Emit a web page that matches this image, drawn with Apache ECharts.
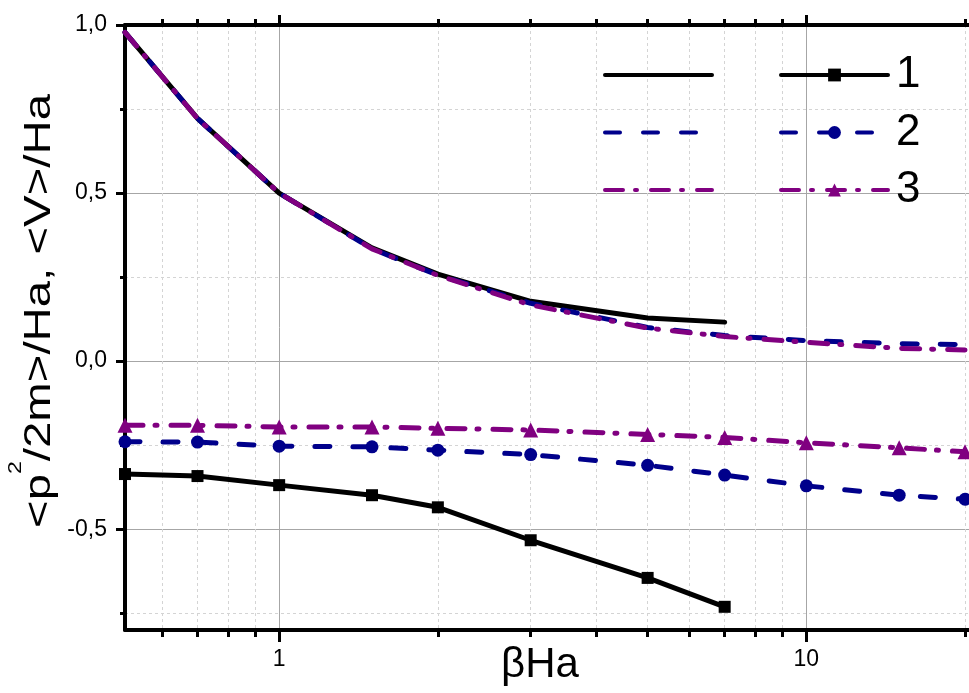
<!DOCTYPE html>
<html><head><meta charset="utf-8">
<script src="https://cdn.jsdelivr.net/npm/echarts@6/dist/echarts.min.js"></script>
<style>html,body{margin:0;padding:0;background:#fff}#c{width:969px;height:693px}</style>
</head><body><div id="c"></div>
<script>
// ---- data ----
const xValues = [0.51, 0.7, 1, 1.5, 2, 3, 5, 7, 10, 15, 20];
const kinetic1 = [0.978, 0.722, 0.5, 0.337, 0.259, 0.178, 0.128, 0.116];
const kinetic2 = [0.978, 0.722, 0.5, 0.334, 0.256, 0.172, 0.100, 0.076, 0.061, 0.052, 0.049];
const kinetic3 = [0.978, 0.722, 0.5, 0.334, 0.255, 0.167, 0.098, 0.073, 0.056, 0.038, 0.033];
const potential1 = [-0.336, -0.342, -0.369, -0.399, -0.435, -0.533, -0.645, -0.731];
const potential2 = [-0.240, -0.241, -0.253, -0.255, -0.265, -0.278, -0.310, -0.339, -0.371, -0.399, -0.411];
const potential3 = [-0.191, -0.191, -0.196, -0.196, -0.200, -0.205, -0.218, -0.227, -0.243, -0.258, -0.270];
const yMajorTicks = [-0.5, 0, 0.5, 1.0];
const yMinorTicks = [-0.75, -0.25, 0.25, 0.75];
const xMajorTicks = [1, 10];
const xMinorTicks = [0.6, 0.7, 0.8, 0.9, 2, 3, 4, 5, 6, 7, 8, 9, 20];
const seriesLabels = ['1', '2', '3'];
const kineticNames = ['K1', 'K2', 'K3'];
const xTitle = 'βHa';
const yTitle = '{n|<p}{sup|2}{n|/2m>/Ha, <V>/Ha}';

const FONT = 'Liberation Sans, Arial, sans-serif';
const BLACK = '#000000', BLUE = '#00008b', PURPLE = '#800080';
const DASH = [15, 23];
const DASHDOT = [18, 12, 2, 14];
const X_MIN = 0.51, X_MAX = 20.35;
const LW = 4;

const pairs = vals => vals.map((v, i) => [xValues[i], v]);
function line(name, vals, color, dash, symbol, size) {
  return {
    name, type: 'line', data: pairs(vals), xAxisIndex: 0, yAxisIndex: 0,
    symbol, symbolSize: size, showSymbol: symbol !== 'none',
    lineStyle: { color: color, width: LW + 1, type: dash, cap: 'round' },
    itemStyle: { color: color },
    clip: false, animation: false, silent: true
  };
}

function xAxis(pos, ticks, len, major) {
  return {
    type: 'log', logBase: 10, min: X_MIN, max: X_MAX, position: pos,
    axisLine: { show: major, onZero: false, lineStyle: { color: BLACK, width: 4 } },
    axisTick: { show: true, customValues: ticks, length: len, lineStyle: { color: BLACK, width: 3 } },
    axisLabel: { show: false },
    splitLine: { show: false },
    minorTick: { show: false }, minorSplitLine: { show: false }
  };
}
const x0 = xAxis('bottom', xMajorTicks, 12, true);
x0.axisLabel = { show: true, customValues: xMajorTicks, margin: 18, fontSize: 23, color: BLACK, fontFamily: FONT,
  formatter: v => String(Math.round(v)) };
x0.splitLine = { show: true, lineStyle: { color: '#a6a6a6', width: 1 } };
x0.name = xTitle; x0.nameLocation = 'middle'; x0.nameGap = 14; x0.nameMoveOverlap = false;
x0.nameTextStyle = { fontSize: 42, color: BLACK, fontFamily: FONT, padding: [0, 14, 0, 0] };
const x1 = xAxis('bottom', xMinorTicks, 7, false);
x1.splitLine = { show: true, lineStyle: { color: '#d4d4d4', width: 1, type: [3, 3] } };
const x2 = xAxis('top', xMajorTicks, 10, true);
const x3 = xAxis('top', xMinorTicks, 6, false);

function yAxis(ticks, len, major) {
  return {
    type: 'value', min: -0.8, max: 1.0, position: 'left',
    axisLine: { show: major, onZero: false, lineStyle: { color: BLACK, width: 4 } },
    axisTick: { show: true, customValues: ticks, length: len, lineStyle: { color: BLACK, width: 3 } },
    axisLabel: major ? { show: true, customValues: ticks, margin: 18, fontSize: 23, color: BLACK, fontFamily: FONT,
      formatter: v => v.toFixed(1).replace('.', ',') } : { show: false },
    splitLine: major ? { show: true, lineStyle: { color: '#a6a6a6', width: 1 } }
                     : { show: true, lineStyle: { color: '#d4d4d4', width: 1, type: [3, 3] } }
  };
}

const chart = echarts.init(document.getElementById('c'), null, { renderer: 'canvas' });
chart.setOption({
  animation: false,
  backgroundColor: '#fff',
  textStyle: { fontFamily: FONT },
  grid: { left: 125, right: 0, top: 25, bottom: 63, containLabel: false, outerBoundsMode: 'none' },
  xAxis: [x0, x1, x2, x3],
  yAxis: [yAxis(yMajorTicks, 9, true), yAxis(yMinorTicks, 5, false)],
  legend: [
    { data: kineticNames, orient: 'vertical', left: 603, top: 53, padding: 0, itemWidth: 107, itemHeight: 16,
      itemGap: 13.5, formatter: () => ' ', selectedMode: false,
      textStyle: { fontSize: 44, lineHeight: 44, fontFamily: FONT },
      lineStyle: { width: LW, cap: 'round' },
      itemStyle: { opacity: 0 } },
    { data: seriesLabels, orient: 'vertical', left: 779, top: 53, padding: 0, itemWidth: 107, itemHeight: 16,
      itemGap: 13.5, selectedMode: false,
      lineStyle: { width: LW, cap: 'round' },
      textStyle: { fontSize: 44, lineHeight: 44, color: BLACK, fontFamily: FONT, padding: [0, 0, 0, 3] } }
  ],
  graphic: [{
    type: 'text', x: 40, y: 311, rotation: Math.PI / 2, scaleX: 1.28, scaleY: 1, silent: true,
    style: {
      text: yTitle, align: 'center', verticalAlign: 'middle', fill: BLACK, fontFamily: FONT, fontSize: 37,
      rich: {
        n: { fontSize: 37, lineHeight: 65, fontFamily: FONT, fill: BLACK },
        sup: { fontSize: 18, lineHeight: 18, verticalAlign: 'top', fontFamily: FONT, fill: BLACK }
      }
    }
  }],
  series: [
    line(kineticNames[0], kinetic1, BLACK, 'solid', 'none', 0),
    line(kineticNames[1], kinetic2, BLUE, DASH, 'none', 0),
    line(kineticNames[2], kinetic3, PURPLE, DASHDOT, 'none', 0),
    line(seriesLabels[0], potential1, BLACK, 'solid', 'rect', 12),
    line(seriesLabels[1], potential2, BLUE, DASH, 'circle', 13),
    line(seriesLabels[2], potential3, PURPLE, DASHDOT, 'triangle', 15)
  ]
});
</script></body></html>
